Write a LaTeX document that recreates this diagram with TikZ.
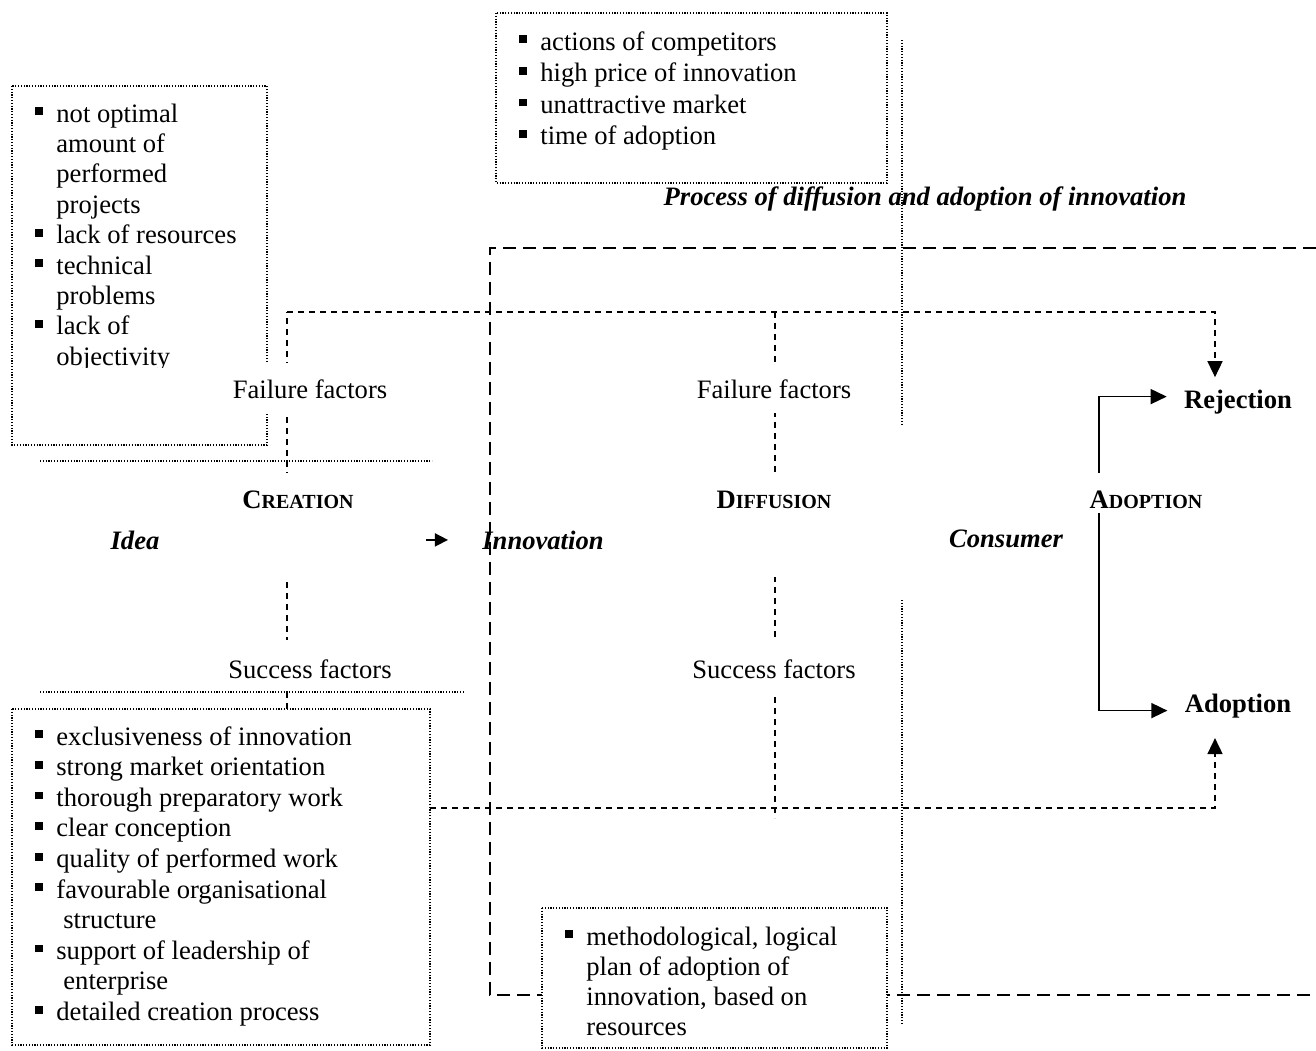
\documentclass[tikz,border=0pt]{standalone}
\usepackage{fontspec}
\setmainfont{Liberation Serif}
\usepackage{tikz}
\usetikzlibrary{arrows.meta}

\newcommand{\sqbul}{\llap{\rule[3.4pt]{3.9pt}{3.9pt}\hspace{6.6pt}}}
\newcommand{\fakesc}[2]{#1{\fontsize{10}{12}\selectfont #2}}

\begin{document}
\begin{tikzpicture}[x=0.5pt,y=-0.5pt,
    every node/.style={font=\fontsize{13.3}{15.25}\selectfont, inner sep=0pt},
    dotbox/.style={line width=0.6pt, dash pattern=on 0.6pt off 0.8pt},
    sdash/.style={line width=0.8pt, dash pattern=on 3pt off 2.5pt},
    ldash/.style={line width=1pt, dash pattern=on 6.5pt off 3.5pt},
    headarrow/.style={-{Triangle[length=8pt,width=7.5pt]}},
    shortarrow/.style={-{Triangle[length=6.5pt,width=6.5pt]}},
    lbl/.style={anchor=base},
    cover/.style={fill=white, inner xsep=3pt},
    keyw/.style={font=\fontsize{13.3}{15.25}\selectfont\bfseries\itshape},
    stage/.style={font=\fontsize{13.3}{15.25}\selectfont\bfseries}
    ]
    \useasboundingbox (0,0) rectangle (1316,1050);

    % factor boxes
    \draw[dotbox] (12,86) rectangle (267,445);
    \draw[dotbox] (496,13) rectangle (887,183);
    \draw[dotbox] (12,709) rectangle (430,1045);

    \begin{scope}
        \clip (12,86) rectangle (267,367);
        \foreach \t [count=\i from 0] in {\sqbul not optimal, amount of, performed, projects,
            \sqbul lack of resources, \sqbul technical, problems, \sqbul lack of, objectivity}
            \node[anchor=base west] (cf\i) at (56,122+30.4*\i) {\t};
    \end{scope}
    \foreach \t [count=\i from 0] in {\sqbul actions of competitors, \sqbul high price of innovation,
        \sqbul unattractive market, \sqbul time of adoption}
        \node[anchor=base west] (df\i) at (540,50+31.6*\i) {\t};
    \foreach \t [count=\i from 0] in {\sqbul exclusiveness of innovation, \sqbul strong market orientation,
        \sqbul thorough preparatory work, \sqbul clear conception, \sqbul quality of performed work,
        \sqbul favourable organisational, \hspace*{3.5pt}structure, \sqbul support of leadership of,
        \hspace*{3.5pt}enterprise, \sqbul detailed creation process}
        \node[anchor=base west] (cs\i) at (56,745+30.6*\i) {\t};

    \node[keyw, lbl] (title) at (925,205) {Process of diffusion and adoption of innovation};

    % end points of the dashed connectors
    \coordinate (cL) at (287,312);
    \coordinate (cR) at (1215,312);
    \coordinate (sL) at (287,709);
    \coordinate (dT) at (775,312);
    \coordinate (dB) at (775,818);
    \coordinate (sE) at (430,808);
    \coordinate (aB) at (1215,808);

    \node[keyw, lbl] (idea) at (135,549) {Idea};
    \node[keyw, lbl] (innov) at (543,549) {Innovation};
    \node[stage, lbl] (reject) at (1238,408) {Rejection};
    \node[stage, lbl] (adopt) at (1238,712) {Adoption};

    \draw[sdash] (sL) -- (cL);
    \draw[sdash, headarrow, shorten >=6pt] (cL) -- (cR) -- (reject.north -| cR);
    \draw[sdash] (dT) -- (dB);
    \draw[sdash, headarrow, shorten >=10pt] (sE) -- (aB) -- (adopt.south -| aB);
    \draw[line width=0.8pt, shortarrow, shorten <=6pt, shorten >=17pt] (idea.east) -- (innov.west);

    % labels on the lines
    \node[lbl, cover, text height=17.5pt, text depth=7.5pt] (failL) at (310,398) {Failure factors};
    \node[lbl, cover, text height=17.5pt, text depth=7.5pt] (failR) at (774,398) {Failure factors};
    \node[lbl, cover, text height=19pt, text depth=7.5pt] (succL) at (310,678) {Success factors};
    \node[lbl, cover, text height=19pt, text depth=7.5pt] (succR) at (774,678) {Success factors};
    \node[stage, lbl, cover, text height=17.5pt, text depth=34.5pt, minimum width=128pt] (creation) at (298,508) {\fakesc{C}{REATION}};
    \node[stage, lbl, cover, text height=17.5pt, text depth=34.5pt] (diffusion) at (774,508) {\fakesc{D}{IFFUSION}};
    \node[stage, lbl, cover, text height=17.5pt, text depth=2.5pt] (adoptlbl) at (1146,508) {\fakesc{A}{DOPTION}};
    \node[keyw, lbl] (consumer) at (1006,547) {Consumer};

    \draw[line width=0.8pt, headarrow, shorten >=8.5pt] ([xshift=-23.5pt]adoptlbl.north) |- ([yshift=2.5pt]reject.west);
    \draw[line width=0.8pt, headarrow, shorten >=8.5pt] ([xshift=-23.5pt]adoptlbl.south) |- ([yshift=-2.5pt]adopt.west);

    % process frame
    \draw[ldash] (1316,248) -- (490,248) -- (490,995) -- (1316,995);

    \draw[dotbox, fill=white] (542,908) rectangle (887,1048);
    \foreach \t [count=\i from 0] in {{\sqbul methodological, logical}, plan of adoption of,
        {innovation, based on}, resources}
        \node[anchor=base west] (ad\i) at (586,945+30.3*\i) {\t};

    % loose dotted rules
    \draw[dotbox] (40,461) -- (432,461);
    \draw[dotbox] (40,692) -- (465,692);
    \draw[dotbox] (902,40) -- (902,425);
    \draw[dotbox] (902,600) -- (902,1025);
\end{tikzpicture}
\end{document}
